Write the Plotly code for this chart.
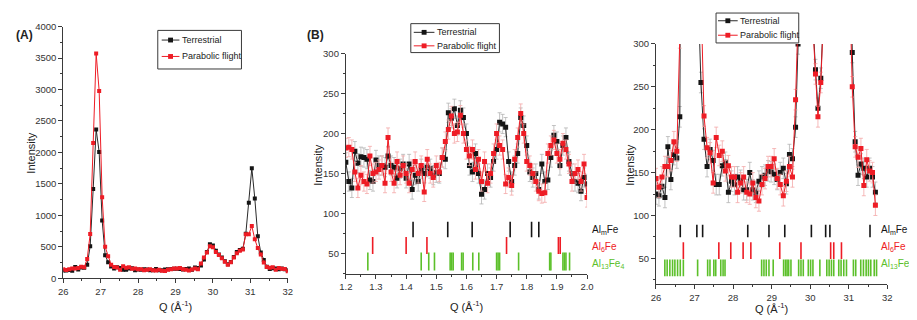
import plotly.graph_objects as go

# ---------------- data ----------------
# Panel A / C : wide Q scan (Q in A^-1)
q_wide = [26.00, 26.08, 26.16, 26.24, 26.32, 26.40, 26.48, 26.56, 26.64, 26.72,
          26.80, 26.88, 26.96, 27.04, 27.12, 27.20, 27.28, 27.36, 27.44, 27.52,
          27.60, 27.68, 27.76, 27.84, 27.92, 28.00, 28.08, 28.16, 28.24, 28.32,
          28.40, 28.48, 28.56, 28.64, 28.72, 28.80, 28.88, 28.96, 29.04, 29.12,
          29.20, 29.28, 29.36, 29.44, 29.52, 29.60, 29.68, 29.76, 29.84, 29.92,
          30.00, 30.08, 30.16, 30.24, 30.32, 30.40, 30.48, 30.56, 30.64, 30.72,
          30.80, 30.88, 30.96, 31.04, 31.12, 31.20, 31.28, 31.36, 31.44, 31.52,
          31.60, 31.68, 31.76, 31.84, 31.92, 32.00]
terr_wide = [125, 123, 134, 121, 180, 142, 171, 167, 215, 510,
             1420, 2365, 2005, 920, 368, 255, 189, 157, 177, 164,
             136, 136, 158, 162, 127, 140, 136, 145, 141, 130,
             130, 150, 130, 127, 140, 145, 147, 152, 151, 148,
             142, 150, 155, 137, 171, 166, 203, 300, 420, 540,
             520, 440, 380, 330, 270, 225, 260, 340, 420, 450,
             470, 710, 1200, 1750, 1270, 670, 410, 290, 186, 147,
             160, 155, 145, 155, 145, 127]
para_wide = [143, 133, 145, 157, 157, 164, 186, 175, 307, 705,
             2150, 3570, 2977, 1290, 500, 350, 216, 179, 173, 138,
             191, 170, 175, 152, 158, 145, 145, 127, 138, 145,
             127, 125, 138, 121, 117, 136, 143, 157, 157, 166,
             143, 136, 123, 140, 157, 145, 235, 330, 410, 510,
             495, 420, 370, 320, 265, 215, 255, 330, 400, 440,
             460, 700, 700, 830, 620, 480, 380, 250, 180, 168,
             178, 135, 165, 152, 150, 112]

# Panel C positions of the same points
q_zoom = [26.000, 26.077, 26.155, 26.232, 26.309, 26.386, 26.464, 26.541, 26.618, 26.695,
          26.773, 26.850, 26.929, 27.008, 27.087, 27.166, 27.246, 27.325, 27.404, 27.483,
          27.562, 27.641, 27.720, 27.799, 27.878, 27.958, 28.037, 28.116, 28.195, 28.274,
          28.353, 28.432, 28.511, 28.590, 28.670, 28.749, 28.828, 28.907, 28.986, 29.065,
          29.144, 29.223, 29.302, 29.382, 29.461, 29.540, 29.620, 29.684, 29.749, 29.813,
          29.878, 29.942, 30.007, 30.071, 30.136, 30.200, 30.274, 30.348, 30.422, 30.497,
          30.571, 30.645, 30.719, 30.793, 30.867, 30.942, 31.016, 31.090, 31.165, 31.240,
          31.315, 31.390, 31.465, 31.540, 31.615, 31.690]

# Panel B : low-Q scan
q_low = [1.20, 1.21, 1.22, 1.23, 1.24, 1.25, 1.26, 1.27, 1.28, 1.29,
         1.30, 1.31, 1.32, 1.33, 1.34, 1.35, 1.36, 1.37, 1.38, 1.39,
         1.40, 1.41, 1.42, 1.43, 1.44, 1.45, 1.46, 1.47, 1.48, 1.49,
         1.50, 1.51, 1.52, 1.53, 1.54, 1.55, 1.56, 1.57, 1.58, 1.59,
         1.60, 1.61, 1.62, 1.63, 1.64, 1.65, 1.66, 1.67, 1.68, 1.69,
         1.70, 1.71, 1.72, 1.73, 1.74, 1.75, 1.76, 1.77, 1.78, 1.79,
         1.80, 1.81, 1.82, 1.83, 1.84, 1.85, 1.86, 1.87, 1.88, 1.89,
         1.90, 1.91, 1.92, 1.93, 1.94, 1.95, 1.96, 1.97, 1.98, 1.99, 2.00]
terr_low = [164, 140, 132, 178, 163, 171, 170, 168, 142, 140,
            167, 160, 160, 158, 172, 160, 158, 144, 156, 162,
            144, 162, 130, 148, 140, 156, 150, 158, 156, 148,
            151, 150, 170, 168, 226, 219, 231, 210, 229, 220,
            200, 160, 152, 175, 150, 124, 130, 150, 145, 165,
            180, 214, 212, 208, 165, 140, 160, 175, 220, 210,
            185, 152, 145, 150, 130, 162, 140, 142, 170, 198,
            190, 160, 185, 195, 165, 150, 140, 138, 128, 145, 137]
para_low = [182, 183, 180, 152, 132, 148, 140, 137, 172, 150,
            152, 155, 160, 138, 195, 152, 138, 165, 148, 160,
            150, 138, 155, 165, 150, 160, 127, 168, 150, 145,
            160, 152, 170, 190, 205, 222, 200, 202, 223, 200,
            180, 172, 180, 155, 168, 140, 165, 138, 150, 175,
            200, 185, 180, 137, 145, 135, 168, 195, 225, 200,
            165, 160, 150, 140, 128, 125, 126, 175, 185, 192,
            175, 168, 188, 180, 162, 140, 150, 155, 140, 162, 120]

# Reflection positions of the candidate phases
alm_low = [1.423, 1.538, 1.619, 1.745, 1.816, 1.840]
al6_low = [1.289, 1.400, 1.469, 1.733, 1.905, 1.911]
al13_low = [1.273, 1.450, 1.475, 1.494, 1.546, 1.551, 1.556, 1.584, 1.589, 1.621,
            1.641, 1.700, 1.705, 1.710, 1.773, 1.876, 1.880, 1.920, 1.925, 1.930, 1.942]
alm_wide = [26.63, 27.06, 27.21, 28.38, 28.93, 29.34, 30.03, 30.40, 30.51, 31.55]
al6_wide = [26.71, 27.63, 27.94, 28.26, 28.46, 29.21, 29.76, 30.53, 30.61, 30.81]
al13_wide = [26.23, 26.29, 26.36, 26.43, 26.49, 26.56, 26.63, 26.71, 27.08,
             27.34, 27.40, 27.50, 27.55, 27.68, 27.74, 27.79,
             28.74, 28.80, 28.86, 28.93, 29.04, 29.31, 29.36, 29.40, 29.44, 29.50,
             29.70, 29.76, 29.82, 29.95, 30.01, 30.07, 30.25,
             30.43, 30.49, 30.55, 30.61, 30.74, 30.80, 30.87, 30.94,
             31.12, 31.18, 31.31, 31.38, 31.45, 31.51, 31.57, 31.66, 31.72]

series_names = ["Terrestrial", "Parabolic flight"]
phase_names = ["Al<sub>m</sub>Fe", "Al<sub>6</sub>Fe", "Al<sub>13</sub>Fe<sub>4</sub>"]

# ---------------- style ----------------
PAGE_W, PAGE_H = 917, 320
OFF = 8                      # default page body margin
W, H = PAGE_W - OFF, PAGE_H - OFF
FONT = "Liberation Sans, Arial, sans-serif"
BLACK = "#151515"
RED = "#ee1c25"
GREEN = "#5cc02a"
AX = "#3a3a3a"
ERR_BLACK = "#b4b4b4"
ERR_RED = "#f4a8a8"


def px_x(p):
    return (p - OFF) / W


def px_y(p):
    return 1 - (p - OFF) / H


fig = go.Figure()


def add_series(x, y, name, color, errcol, xa, ya, size, err=None):
    kw = {}
    if err is not None:
        kw["error_y"] = dict(type="constant", value=err, color=errcol, thickness=0.8, width=2)
    fig.add_trace(go.Scatter(
        x=x, y=y, name=name, mode="lines+markers", xaxis=xa, yaxis=ya,
        showlegend=False, cliponaxis=True,
        line=dict(color=RED if color == RED else "#2a2a2a", width=1),
        marker=dict(symbol="square", size=size, color=color, line=dict(width=0)),
        **kw))


# Panel A
add_series(q_wide, terr_wide, series_names[0], BLACK, ERR_BLACK, "x", "y", 4)
add_series(q_wide, para_wide, series_names[1], RED, ERR_RED, "x", "y", 4)
# Panel B
add_series(q_low, terr_low, series_names[0], BLACK, ERR_BLACK, "x2", "y2", 5, err=12)
add_series(q_low, para_low, series_names[1], RED, ERR_RED, "x2", "y2", 5, err=12)
# Panel C
add_series(q_zoom, terr_wide, series_names[0], BLACK, ERR_BLACK, "x3", "y3", 5, err=12)
add_series(q_zoom, para_wide, series_names[1], RED, ERR_RED, "x3", "y3", 5, err=12)


def add_refl(qs, level, color, size, xa, ya):
    fig.add_trace(go.Scatter(
        x=qs, y=[level] * len(qs), mode="markers", xaxis=xa, yaxis=ya, showlegend=False,
        hoverinfo="skip",
        marker=dict(symbol="line-ns-open", size=size, color=color,
                    line=dict(color=color, width=1.6))))


add_refl(alm_low, 80, BLACK, 11, "x2", "y2")
add_refl(al6_low, 60, RED, 12, "x2", "y2")
add_refl(al13_low, 40, GREEN, 13, "x2", "y2")
add_refl(alm_wide, 82, BLACK, 9, "x3", "y3")
add_refl(al6_wide, 59, RED, 12, "x3", "y3")
add_refl(al13_wide, 39, GREEN, 12, "x3", "y3")


def axis(domain, rng, dtick, minor, anchor, fmt=None):
    d = dict(domain=domain, range=rng, dtick=dtick, tick0=0, anchor=anchor,
             showline=True, linecolor=AX, linewidth=1, mirror=False,
             ticks="outside", ticklen=4, tickwidth=1, tickcolor=AX,
             showgrid=False, zeroline=False,
             tickfont=dict(family=FONT, size=9.5, color="#333"),
             minor=dict(ticks="outside", ticklen=2, tickcolor=AX, dtick=minor, showgrid=False))
    if fmt:
        d["tickformat"] = fmt
    return d


fig.update_layout(
    width=W, height=H, margin=dict(l=0, r=0, t=0, b=0),
    paper_bgcolor="white", plot_bgcolor="rgba(0,0,0,0)",
    font=dict(family=FONT, color="#222"), showlegend=False,
    xaxis=axis([px_x(57), px_x(285)], [26, 32], 1, 0.5, "y"),
    yaxis=axis([px_y(282), px_y(21)], [0, 4000], 500, 250, "x"),
    xaxis2=axis([px_x(344), px_x(589)], [1.2, 2.0], 0.1, 0.05, "y2", ".1f"),
    yaxis2=axis([px_y(277), px_y(49)], [25, 300], 50, 25, "x2"),
    xaxis3=axis([px_x(659), px_x(894)], [26, 32], 1, 0.5, "y3"),
    yaxis3=axis([px_y(288), px_y(39)], [20, 300], 50, 25, "x3"),
)

ann = []
shapes = []


def text(x, y, s, size=11, color="#222", angle=0, xanchor="center", bold=False):
    if bold:
        s = "<b>" + s + "</b>"
    ann.append(dict(x=px_x(x), y=px_y(y), xref="paper", yref="paper", text=s,
                    showarrow=False, textangle=angle, xanchor=xanchor, yanchor="middle",
                    font=dict(family=FONT, size=size, color=color)))


def legend_box(x0, y0, x1, y1, rows, sx0, sx1, tx, fsize=9):
    shapes.append(dict(type="rect", xref="paper", yref="paper", layer="above",
                       x0=px_x(x0), x1=px_x(x1), y0=px_y(y1), y1=px_y(y0),
                       line=dict(color=AX, width=1), fillcolor="white"))
    for (ry, col, name) in rows:
        lc = RED if col == RED else "#2a2a2a"
        shapes.append(dict(type="line", xref="paper", yref="paper", layer="above",
                           x0=px_x(sx0), x1=px_x(sx1), y0=px_y(ry), y1=px_y(ry),
                           line=dict(color=lc, width=1)))
        mx = (sx0 + sx1) / 2
        shapes.append(dict(type="rect", xref="paper", yref="paper", layer="above",
                           x0=px_x(mx - 2.5), x1=px_x(mx + 2.5), y0=px_y(ry + 2.5), y1=px_y(ry - 2.5),
                           line=dict(width=0), fillcolor=col))
        text(tx, ry, name, size=fsize, xanchor="left")


legend_box(153, 25, 238, 65, [(35, BLACK, series_names[0]), (52, RED, series_names[1])], 157, 175, 176)
legend_box(410, 18, 500, 48, [(27, BLACK, series_names[0]), (41, RED, series_names[1])], 413, 434, 435)
legend_box(720, 7, 804, 38, [(15, BLACK, series_names[0]), (30, RED, series_names[1])], 722, 742, 742)

text(18, 30, "(A)", size=12, bold=True)
text(313, 30, "(B)", size=12, bold=True)
text(24, 152, "Intensity", angle=-90)
text(316, 165, "Intensity", angle=-90)
text(633, 165, "Intensity", angle=-90)
q_title = "Q (Å<sup>-1</sup>)"
text(171, 311, q_title)
text(467, 311, q_title)
text(776, 313, q_title)
for xx, fs in ((592, 10), (886, 10)):
    text(xx, 232, phase_names[0], size=fs, color=BLACK, xanchor="left")
    text(xx, 249, phase_names[1], size=fs, color=RED, xanchor="left")
    text(xx, 267, phase_names[2], size=fs, color=GREEN, xanchor="left")
fig.update_layout(annotations=ann, shapes=shapes)

fig.write_html("out.html")
